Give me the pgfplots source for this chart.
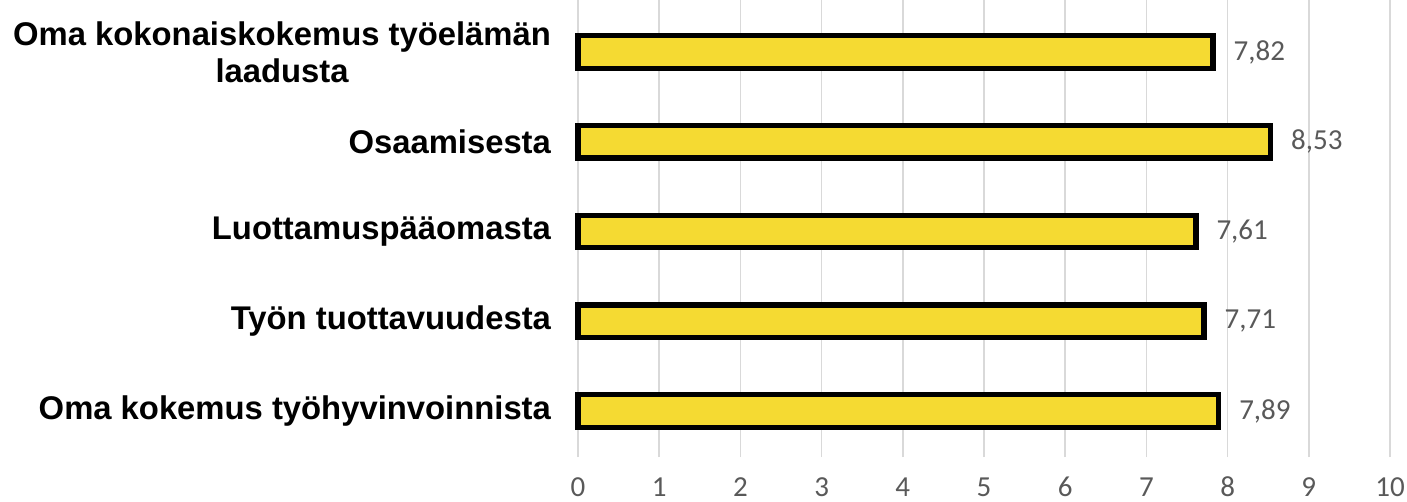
\documentclass[border=0pt]{standalone}
\usepackage{fontspec}
\setmainfont{Liberation Sans}
\newfontfamily\carlito{Carlito}
\usepackage{pgfplots}
\pgfplotsset{compat=1.18}
\definecolor{baryellow}{RGB}{245,218,50}
\definecolor{txtgray}{RGB}{89,89,89}
\definecolor{gridgray}{RGB}{217,217,217}
\begin{document}
\begin{tikzpicture}
\useasboundingbox (0,0) rectangle (703.5pt,251pt);
\begin{axis}[
  at={(289pt,251pt)}, anchor=north west,
  scale only axis, width=406pt, height=228.5pt,
  xbar, bar width=16.3pt,
  xmin=0, xmax=10, xtick={0,1,...,10},
  ymin=-0.513, ymax=4.579,
  ytick={0,1,2,3,4},
  yticklabels={Oma kokemus työhyvinvoinnista, Työn tuottavuudesta, Luottamuspääomasta, Osaamisesta, {Oma kokonaiskokemus työelämän\\laadusta}},
  yticklabel style={font=\bfseries\fontsize{16.4}{18.5}\selectfont, align=center, text=black, xshift=-10pt},
  xticklabel style={font=\carlito\fontsize{14.5}{16}\selectfont, text=txtgray, anchor=north, text height=9.5pt, text depth=0pt, inner sep=1pt, yshift=-9pt},
  /pgf/number format/assume math mode=true,
  axis line style={draw=none},
  major tick length=0pt,
  xmajorgrids, major grid style={draw=gridgray, line width=0.8pt},
  point meta=x,
  nodes near coords={\pgfmathprintnumber[fixed,precision=2,use comma,fixed zerofill]{\pgfplotspointmeta}},
  nodes near coords style={font=\carlito\fontsize{14.5}{16}\selectfont, text=txtgray, anchor=west, inner sep=0pt, xshift=9pt},
  clip=false,
]
\addplot[fill=baryellow, draw=black, line width=2.6pt] coordinates {
  (7.89,0) (7.71,1) (7.61,2) (8.53,3) (7.82,4)
};
\end{axis}
\end{tikzpicture}
\end{document}
